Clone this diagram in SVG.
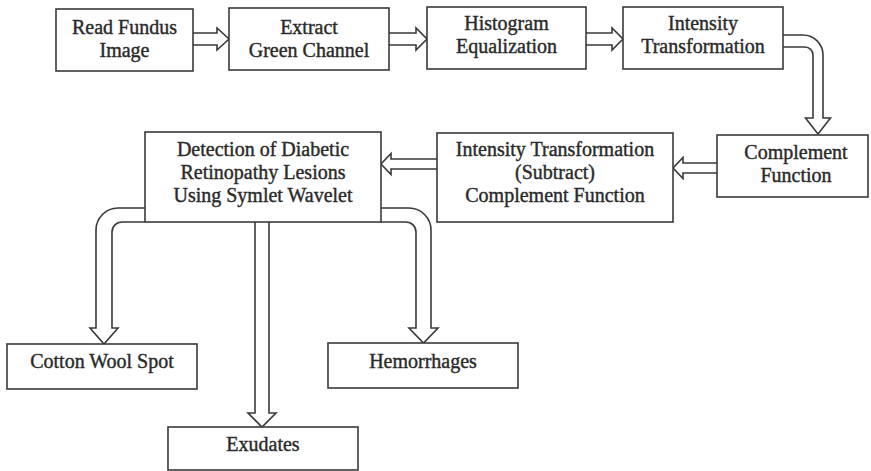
<svg xmlns="http://www.w3.org/2000/svg" width="871" height="471" viewBox="0 0 871 471">
<style>
  .box { fill: #ffffff; stroke: #3a3a3a; stroke-width: 1.6; }
  .arr { fill: #ffffff; stroke: #3a3a3a; stroke-width: 1.6; stroke-linejoin: miter; }
  text { font-family: "Liberation Serif", "Times New Roman", serif; font-size: 20px; fill: #2a2a2a; stroke: #2a2a2a; stroke-width: 0.4; text-anchor: middle; }
</style>
<rect width="871" height="471" fill="#ffffff"/>
<g id="connectors">
  <path class="arr" d="M193,33 H217 V28 L229,39 L217,50 V45 H193"/>
  <path class="arr" d="M389,33 H416 V28 L427,39 L416,50 V45 H389"/>
  <path class="arr" d="M586,33 H612 V28 L623,39 L612,50 V45 H586"/>
  <path class="arr" d="M783,35 H803 A20,20 0 0 1 823,55 V118 H830.5 L818,134 L805.5,118 H813 V55 A8,8 0 0 0 805,47 H783"/>
  <path class="arr" d="M717,163 H683 V157.5 L673,168 L683,178.5 V173 H717"/>
  <path class="arr" d="M437,159 H391 V153.5 L381,164 L391,174.5 V169 H437"/>
  <path class="arr" d="M145,208 H118 A22,22 0 0 0 96,230 V328 H90 L104,344 L118,328 H112 V232 A10,10 0 0 1 122,222 H145"/>
  <path class="arr" d="M381,208 H409 A22,22 0 0 1 431,230 V328 H438 L423.5,343 L409,328 H416 V232 A10,10 0 0 0 406,222 H381"/>
  <path class="arr" d="M255,222 V413 H248 L262,427 L276,413 H269 V222"/>
</g>
<g id="read">
  <rect class="box" x="56" y="9" width="137" height="62"/>
  <text x="124.5" y="34">Read Fundus</text>
  <text x="124.5" y="57">Image</text>
</g>
<g id="extract">
  <rect class="box" x="229" y="8" width="160" height="62"/>
  <text x="309" y="34">Extract</text>
  <text x="309" y="57">Green Channel</text>
</g>
<g id="histogram">
  <rect class="box" x="427" y="7" width="159" height="62"/>
  <text x="506.5" y="30">Histogram</text>
  <text x="506.5" y="53">Equalization</text>
</g>
<g id="intensity">
  <rect class="box" x="623" y="7" width="160" height="62"/>
  <text x="703" y="30">Intensity</text>
  <text x="703" y="53">Transformation</text>
</g>
<g id="complement">
  <rect class="box" x="717" y="135" width="151" height="62"/>
  <text x="796" y="159">Complement</text>
  <text x="796" y="182">Function</text>
</g>
<g id="subtract">
  <rect class="box" x="437" y="133" width="236" height="89"/>
  <text x="555" y="156">Intensity Transformation</text>
  <text x="555" y="179">(Subtract)</text>
  <text x="555" y="202">Complement Function</text>
</g>
<g id="detection">
  <rect class="box" x="145" y="132" width="236" height="90"/>
  <text x="263" y="156">Detection of Diabetic</text>
  <text x="263" y="179">Retinopathy Lesions</text>
  <text x="263" y="202">Using Symlet Wavelet</text>
</g>
<g id="cotton">
  <rect class="box" x="7" y="344" width="190" height="45"/>
  <text x="102" y="368">Cotton Wool Spot</text>
</g>
<g id="hemorrhages">
  <rect class="box" x="328" y="343" width="190" height="45"/>
  <text x="423" y="368">Hemorrhages</text>
</g>
<g id="exudates">
  <rect class="box" x="168" y="427" width="190" height="43"/>
  <text x="263" y="451">Exudates</text>
</g>
</svg>
